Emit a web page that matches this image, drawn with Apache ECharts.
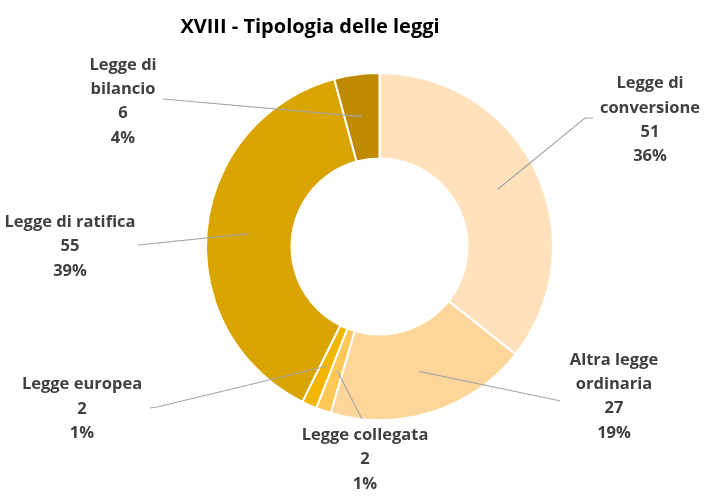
<!DOCTYPE html>
<html>
<head>
<meta charset="utf-8">
<script src="https://cdn.jsdelivr.net/npm/echarts@6/dist/echarts.min.js"></script>
<style>
html,body{margin:0;padding:0;background:#fff;}
#chart{width:713px;height:502px;}
</style>
</head>
<body>
<div id="chart"></div>
<script>
const titleText = 'XVIII - Tipologia delle leggi';
const categories = ['Legge di conversione', 'Altra legge ordinaria', 'Legge collegata', 'Legge europea', 'Legge di ratifica', 'Legge di bilancio'];
const labelNames = ['Legge di\nconversione', 'Altra legge\nordinaria', 'Legge collegata', 'Legge europea', 'Legge di ratifica', 'Legge di\nbilancio'];
const values = [51, 27, 2, 2, 55, 6];
const colors = ['#FFE1BB', '#FFD699', '#FFC857', '#F2B500', '#D9A400', '#BD8A00'];

const CX = 379.5, CY = 246.5, R_IN = 88, R_OUT = 173.5, R_ANCHOR = 131;
// label block centres and leader-line ends (layout styling)
const labelPos = [
  {x: 650, y: 120, p1: [585, 118], p2: [593, 118]},
  {x: 614, y: 396.5, p1: [556, 400], p2: [560, 401]},
  {x: 365, y: 459.5, p1: [362, 419], p2: [362, 419]},
  {x: 82, y: 409, p1: [157, 407], p2: [150, 408]},
  {x: 70, y: 246.5, p1: [138, 245], p2: [138, 245]},
  {x: 123, y: 101.5, p1: [163, 99], p2: [163, 99]}
];

const FONT = 'Open Sans';
const pieData = categories.map((c, i) => ({name: c, value: values[i], itemStyle: {color: colors[i]}}));
const overlayData = categories.map((c, i) => ({name: c, value: values[i]}));

const chart = echarts.init(document.getElementById('chart'), null, {renderer: 'canvas'});
chart.setOption({
  backgroundColor: '#ffffff',
  animation: false,
  title: {
    text: titleText,
    left: 305, top: 12,
    textAlign: 'center',
    textStyle: {fontFamily: FONT, fontSize: 20, fontWeight: 'bold', color: '#000000'}
  },
  series: [{
    type: 'pie',
    z: 2,
    center: [CX, CY],
    radius: [R_IN, R_OUT],
    startAngle: 90,
    clockwise: true,
    itemStyle: {borderColor: '#ffffff', borderWidth: 2},
    label: {show: false},
    labelLine: {show: false},
    data: pieData
  }, {
    type: 'pie',
    z: 5,
    silent: true,
    center: [CX, CY],
    radius: [R_IN, R_OUT],
    startAngle: 90,
    clockwise: true,
    avoidLabelOverlap: false,
    percentPrecision: 0,
    itemStyle: {color: 'rgba(0,0,0,0)', borderWidth: 0},
    label: {
      show: true,
      position: 'outside',
      formatter: function (p) { return labelNames[p.dataIndex] + '\n' + p.value + '\n' + p.percent + '%'; },
      fontFamily: FONT,
      fontSize: 16.5,
      fontWeight: 'bold',
      color: '#404040',
      lineHeight: 24.3,
      align: 'center'
    },
    labelLine: {show: true, smooth: false, lineStyle: {color: '#A6A6A6', width: 1.2}},
    labelLayout: function (params) {
      const i = params.dataIndex;
      const lp = labelPos[i];
      const p0 = params.labelLinePoints ? params.labelLinePoints[0] : [CX, CY];
      const k = R_ANCHOR / R_OUT;
      const start = [CX + (p0[0] - CX) * k, CY + (p0[1] - CY) * k];
      return {
        x: lp.x, y: lp.y,
        align: 'center', verticalAlign: 'middle',
        labelLinePoints: [start, lp.p1, lp.p2]
      };
    },
    data: overlayData
  }]
});
</script>
</body>
</html>
